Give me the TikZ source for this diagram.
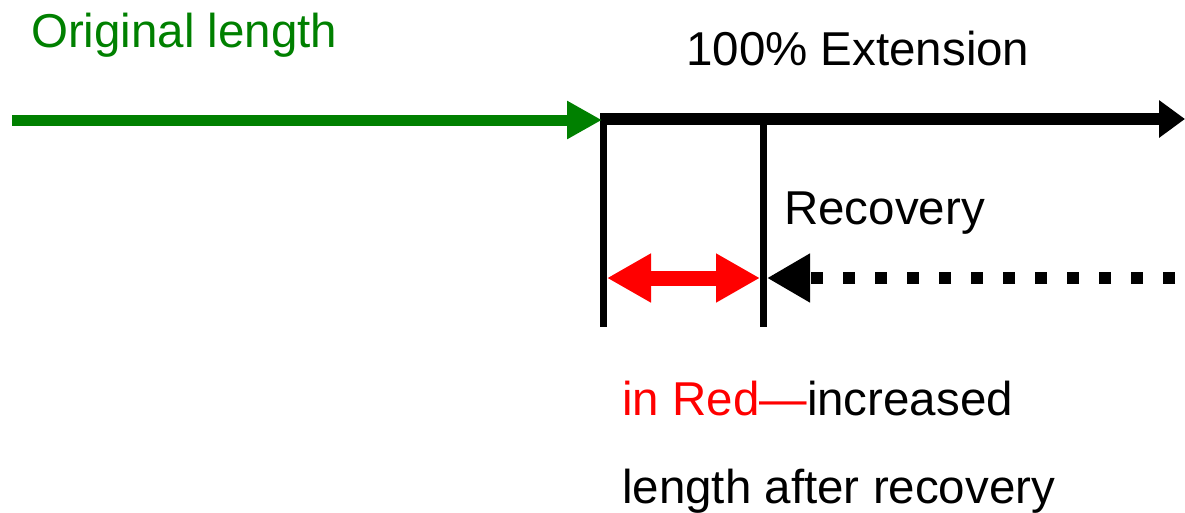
\documentclass[tikz,border=0pt]{standalone}
\usepackage{fontspec}
\setmainfont{Liberation Sans}
\usetikzlibrary{arrows.meta}
\definecolor{dgreen}{RGB}{0,128,0}
\definecolor{pred}{RGB}{255,0,0}
\tikzset{
  lbl/.style={inner sep=0pt, anchor=base west, font=\fontsize{47.5}{57}\selectfont},
  bar/.style={line width=7pt},
}
\begin{document}
\begin{tikzpicture}[x=1pt,y=-1pt]
\useasboundingbox (0,0) rectangle (1185,512);
% coordinates
\coordinate (g0) at (12,120);
\coordinate (g1) at (602,120);
\coordinate (e1) at (1185,119);
\coordinate (l0) at (603,113);
\coordinate (l1) at (603,327);
\coordinate (r0) at (763,113);
\coordinate (r1) at (763,327);
\coordinate (rd0) at (607,278);
\coordinate (rd1) at (760,278);
\coordinate (d0) at (1185,278);
\coordinate (d1) at (767,278);
% lines
\draw[bar] (l0) -- (l1);
\draw[bar] (r0) -- (r1);
\draw[dgreen, line width=11pt, -{Triangle[length=35pt,width=36pt]}] (g0) -- (g1);
\draw[black, line width=12pt, -{Triangle[length=26pt,width=36pt]}] (g1 |- e1) -- (e1);
\draw[pred, line width=15pt, {Triangle[length=44pt,width=46pt]}-{Triangle[length=44pt,width=46pt]}] (rd0) -- (rd1);
\draw[black, line width=12pt, dash pattern=on 12pt off 20pt, dash phase=22pt, -{Triangle[length=43pt,width=46pt]}] (d0) -- (d1);
% labels
\node[lbl, text=dgreen] (orig) at (31,47) {Original length};
\node[lbl] (ext) at (686,65) {100\% Extension};
\node[lbl] (rec) at (784,224) {Recovery};
\node[lbl] (inred) at (622,415) {\textcolor{pred}{in Red—}increased};
\node[lbl] (after) at (622,503) {length after recovery};
\end{tikzpicture}
\end{document}
